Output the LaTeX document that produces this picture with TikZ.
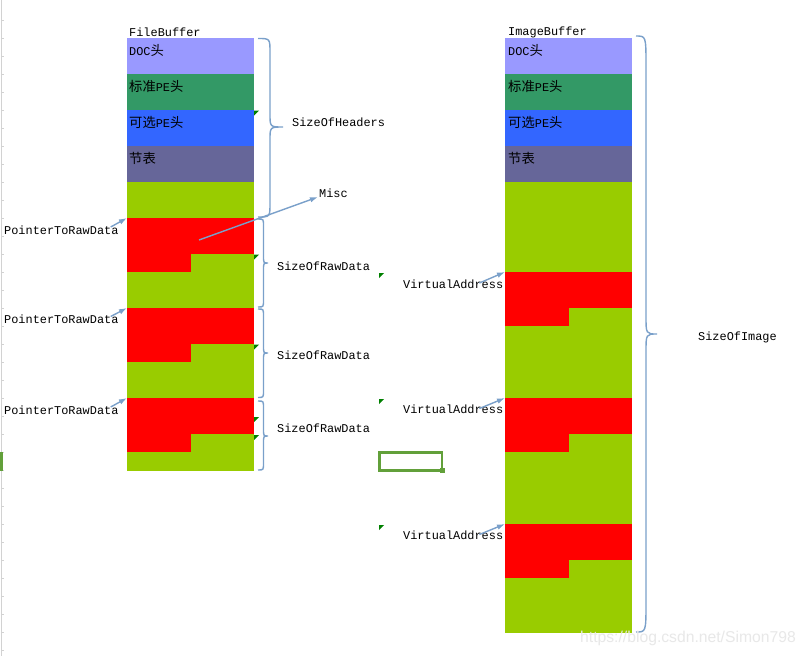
\documentclass[tikz,border=0pt]{standalone}
\usepackage{fontspec}
\setmainfont{Liberation Mono}
\newfontfamily\cjk{Noto Sans CJK SC}[Scale=1.12]
\newfontfamily\wmfont{Liberation Sans}
\usetikzlibrary{arrows.meta,calc}

\definecolor{cdoc}{HTML}{9999FF}
\definecolor{cstd}{HTML}{339966}
\definecolor{copt}{HTML}{3366FF}
\definecolor{csec}{HTML}{666699}
\definecolor{cgrn}{HTML}{99CC00}
\definecolor{cred}{HTML}{FF0000}
\definecolor{cline}{RGB}{122,160,202}
\definecolor{ctri}{RGB}{0,128,0}
\definecolor{csel}{RGB}{98,160,58}

% x0 x1 x2 ytop ymid ybot rEnd rTip
\newcommand\pebrace[8]{%
  \draw[brace] (#1,#4) .. controls (#2,#4) .. (#2,#4+#7) -- (#2,#5-#8)
    .. controls (#2,#5) .. (#3,#5) .. controls (#2,#5) .. (#2,#5+#8)
    -- (#2,#6-#7) .. controls (#2,#6) .. (#1,#6);}

\begin{document}
\begin{tikzpicture}[x=1pt,y=-1pt,
  blk/.style={inner sep=0pt,outer sep=0pt,anchor=north west,minimum width=127pt,minimum height=36pt,draw=none},
  half/.style={inner sep=0pt,outer sep=0pt,anchor=north west,minimum width=64pt,minimum height=18pt,draw=none},
  lbl/.style={inner sep=0pt,anchor=west,font=\fontsize{11.9}{14}\selectfont},
  conn/.style={draw=cline,line width=1.4pt,-{Latex[length=8pt,width=5.5pt]}},
  brace/.style={draw=cline,line width=1.4pt},
  tri/.style={fill=ctri},
]
\useasboundingbox (0,0) rectangle (806,656);
\fill[white] (0,0) rectangle (806,656);

% Excel row header edge
\draw[gray!35,line width=1pt] (1.5,0) -- (1.5,656);
\foreach \yy in {20,38,...,650} \draw[gray!35,line width=0.8pt] (1.5,\yy) -- (4,\yy);
\fill[csel] (0,452) rectangle (3,471);

% ---------- FileBuffer column ----------
\node[blk,fill=cdoc] (fdoc) at (127,38) {};
\node[blk,fill=cstd] (fstd) at (127,74) {};
\node[blk,fill=copt] (fopt) at (127,110) {};
\node[blk,fill=csec] (fsec) at (127,146) {};
\fill[cgrn] (127,182) rectangle (254,471);
\node[blk,fill=cred] (fr1) at (127,218) {};
\node[half,fill=cred] (fh1) at (127,254) {};
\node[blk,fill=cred] (fr2) at (127,308) {};
\node[half,fill=cred] (fh2) at (127,344) {};
\node[blk,fill=cred] (fr3) at (127,398) {};
\node[half,fill=cred] (fh3) at (127,434) {};

% ---------- ImageBuffer column ----------
\node[blk,fill=cdoc] (idoc) at (505,38) {};
\node[blk,fill=cstd] (istd) at (505,74) {};
\node[blk,fill=copt] (iopt) at (505,110) {};
\node[blk,fill=csec] (isec) at (505,146) {};
\fill[cgrn] (505,182) rectangle (632,633);
\node[blk,fill=cred] (ir1) at (505,272) {};
\node[half,fill=cred] (ih1) at (505,308) {};
\node[blk,fill=cred] (ir2) at (505,398) {};
\node[half,fill=cred] (ih2) at (505,434) {};
\node[blk,fill=cred] (ir3) at (505,524) {};
\node[half,fill=cred] (ih3) at (505,560) {};

% ---------- texts ----------
\node[lbl] (fb) at (129,32) {FileBuffer};
\node[lbl] (ib) at (508,32) {ImageBuffer};

\node[lbl] (t1) at (129,50) {DOC{\cjk 头}};
\node[lbl] (t2) at (129,86.5) {{\cjk 标准}PE{\cjk 头}};
\node[lbl] (t3) at (129,122.5) {{\cjk 可选}PE{\cjk 头}};
\node[lbl] (t4) at (129,158) {{\cjk 节表}};
\node[lbl] (u1) at (508,50) {DOC{\cjk 头}};
\node[lbl] (u2) at (508,86.5) {{\cjk 标准}PE{\cjk 头}};
\node[lbl] (u3) at (508,122.5) {{\cjk 可选}PE{\cjk 头}};
\node[lbl] (u4) at (508,158) {{\cjk 节表}};

\node[lbl] (soh) at (292,122) {SizeOfHeaders};
\node[lbl] (misc) at (319,193) {Misc};
\node[lbl] (sr1) at (277,266) {SizeOfRawData};
\node[lbl] (sr2) at (277,355.5) {SizeOfRawData};
\node[lbl] (sr3) at (277,428) {SizeOfRawData};
\node[lbl] (soi) at (698,337.5) {SizeOfImage};

\node[lbl] (p1) at (4,230) {PointerToRawData};
\node[lbl] (p2) at (4,319.5) {PointerToRawData};
\node[lbl] (p3) at (4,410) {PointerToRawData};
\node[lbl] (v1) at (403,284) {VirtualAddress};
\node[lbl] (v2) at (403,409.5) {VirtualAddress};
\node[lbl] (v3) at (403,535.5) {VirtualAddress};

% ---------- braces ----------
\pebrace{258}{270}{283}{38.5}{127}{217}{14}{13}
\pebrace{258}{263.5}{268}{219}{263}{307}{7}{7}
\pebrace{258}{263.5}{268}{309}{353}{397.5}{7}{7}
\pebrace{258}{263.5}{268}{401}{436}{470}{7}{7}
\pebrace{636}{646}{657}{36}{334}{632}{30}{18}

% ---------- connectors ----------
\coordinate (ms) at (199,240);
\draw[conn] (ms) -- ($(misc.west)+(-1,4)$);
\draw[conn] ($(p1.east)+(-8,-3)$) -- (fr1.north west);
\draw[conn] ($(p2.east)+(-8,-3)$) -- (fr2.north west);
\draw[conn] ($(p3.east)+(-8,-3)$) -- (fr3.north west);
\draw[conn] ($(v1.east)+(-24,-1)$) -- (ir1.north west);
\draw[conn] ($(v2.east)+(-24,-1)$) -- (ir2.north west);
\draw[conn] ($(v3.east)+(-24,-1)$) -- (ir3.north west);

% ---------- comment markers ----------
\foreach \px/\py in {254/110.5,254/254.5,254/344.5,254/417,254/435,379/273,379/399,379/525}
  \fill[tri] (\px,\py) -- ++(5,0) -- ++(-5,5) -- cycle;

% ---------- selected cell ----------
\draw[csel,line width=2.5pt] (379.5,452.5) rectangle (442,470.5);
\fill[csel] (439.5,467.5) rectangle (444.5,472.5);

% ---------- watermark ----------
\node[anchor=west,inner sep=0pt,font=\wmfont\fontsize{15.7}{18}\selectfont,text=gray!18] (wm) at (580,638) {https://blog.csdn.net/Simon798};
\end{tikzpicture}
\end{document}
